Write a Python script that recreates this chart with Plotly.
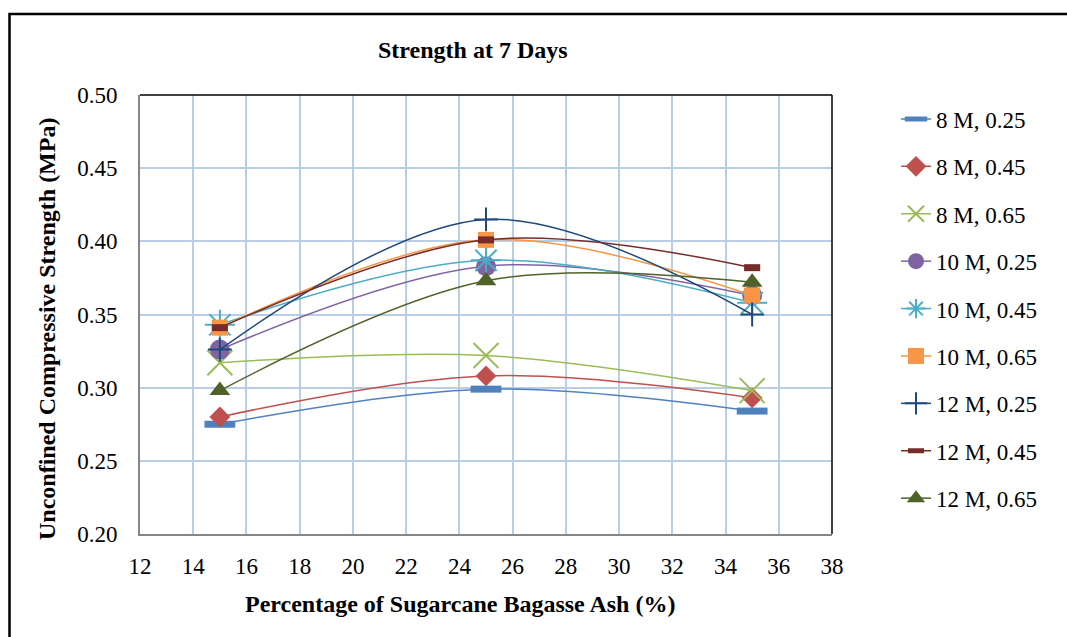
import plotly.graph_objects as go

# ---- data ----
ash_pct = [15, 25, 35]
s_8M_025 = [0.275, 0.299, 0.284]
s_8M_045 = [0.280, 0.308, 0.293]
s_8M_065 = [0.317, 0.322, 0.298]
s_10M_025 = [0.326, 0.383, 0.363]
s_10M_045 = [0.343, 0.387, 0.358]
s_10M_065 = [0.341, 0.401, 0.363]
s_12M_025 = [0.326, 0.415, 0.350]
s_12M_045 = [0.341, 0.401, 0.382]
s_12M_065 = [0.298, 0.373, 0.372]
series_names = ["8 M, 0.25", "8 M, 0.45", "8 M, 0.65", "10 M, 0.25", "10 M, 0.45",
                "10 M, 0.65", "12 M, 0.25", "12 M, 0.45", "12 M, 0.65"]
x_ticks = list(range(12, 40, 2))
y_ticks = [0.20, 0.25, 0.30, 0.35, 0.40, 0.45, 0.50]

series_values = [s_8M_025, s_8M_045, s_8M_065, s_10M_025, s_10M_045,
                 s_10M_065, s_12M_025, s_12M_045, s_12M_065]

styles = [
    dict(color="#4F81BD", symbol="line-ew", size=22, lw=7),
    dict(color="#C0504D", symbol="diamond", size=16, lw=0),
    dict(color="#9BBB59", symbol="x-thin-open", size=25, lw=2),
    dict(color="#8064A2", symbol="circle", size=20, lw=0),
    dict(color="#4BACC6", symbol="asterisk-open", size=25, lw=2),
    dict(color="#F79646", symbol="square", size=16, lw=0),
    dict(color="#1F497D", symbol="cross-thin-open", size=17, lw=2),
    dict(color="#772C2A", symbol="line-ew", size=11.5, lw=7),
    dict(color="#4F6228", symbol="triangle-up", size=18, lw=0),
]

FONT = "Liberation Serif, Times New Roman, serif"

fig = go.Figure()
for i, (name, vals, st) in enumerate(zip(series_names, series_values, styles)):
    fig.add_trace(go.Scatter(
        x=ash_pct, y=vals, name=name, mode="lines+markers",
        legendgroup=f"g{i}",
        line=dict(color=st["color"], width=1.5, shape="spline", smoothing=1),
        marker=dict(symbol=st["symbol"], size=st["size"], color=st["color"],
                    line=dict(color=st["color"], width=st["lw"])),
    ))

W, H = 1067, 637
L, R, T, B = 140, 235, 95, 103
pw, ph = W - L - R, H - T - B

def px(x):
    return (x - L) / pw

def py(y):
    return (H - B - y) / ph

fig.update_layout(
    width=W, height=H,
    margin=dict(l=L, r=R, t=T, b=B),
    paper_bgcolor="white", plot_bgcolor="white",
    font=dict(family=FONT, size=23, color="black"),
    showlegend=True,
    legend=dict(x=px(896), y=py(97.5), xanchor="left", yanchor="top",
                font=dict(family=FONT, size=23), traceorder="grouped",
                tracegroupgap=14.5, bgcolor="rgba(0,0,0,0)", itemsizing="trace",
                maxheight=620),
    xaxis=dict(range=[12, 38], tickvals=x_ticks, showgrid=True, gridcolor="#B9CDE5",
               gridwidth=1.5, showline=True, linecolor="#868686", linewidth=2,
               zeroline=False, ticks="", ticklabelstandoff=10,
               tickfont=dict(family=FONT, size=23)),
    yaxis=dict(range=[0.20, 0.50], tickvals=y_ticks, tickformat=".2f", showgrid=True,
               gridcolor="#B9CDE5", gridwidth=1.5, showline=True, linecolor="#868686",
               linewidth=2, zeroline=False, ticks="", ticklabelstandoff=16,
               tickfont=dict(family=FONT, size=23)),
    shapes=[
        dict(type="rect", xref="paper", yref="paper", x0=px(9.5), x1=px(1100),
             y0=py(700), y1=py(14), line=dict(color="black", width=2.5), layer="above"),
        dict(type="line", xref="paper", yref="paper", x0=0, x1=1, y0=1, y1=1,
             line=dict(color="black", width=1.5), layer="above"),
        dict(type="line", xref="paper", yref="paper", x0=1, x1=1, y0=0, y1=1,
             line=dict(color="black", width=1.5), layer="above"),
    ],
    annotations=[
        dict(text="<b>Strength at 7 Days</b>", xref="paper", yref="paper",
             x=px(473), y=py(50), showarrow=False, xanchor="center", yanchor="middle",
             font=dict(family=FONT, size=24)),
        dict(text="<b>Percentage of Sugarcane Bagasse Ash (%)</b>", xref="paper", yref="paper",
             x=px(460), y=py(604), showarrow=False, xanchor="center", yanchor="middle",
             font=dict(family=FONT, size=24)),
        dict(text="<b>Unconfined Compressive Strength (MPa)</b>", xref="paper", yref="paper",
             x=px(47), y=py(329), showarrow=False, xanchor="center", yanchor="middle",
             textangle=-90, font=dict(family=FONT, size=24)),
    ],
)

fig.write_html("out.html")
